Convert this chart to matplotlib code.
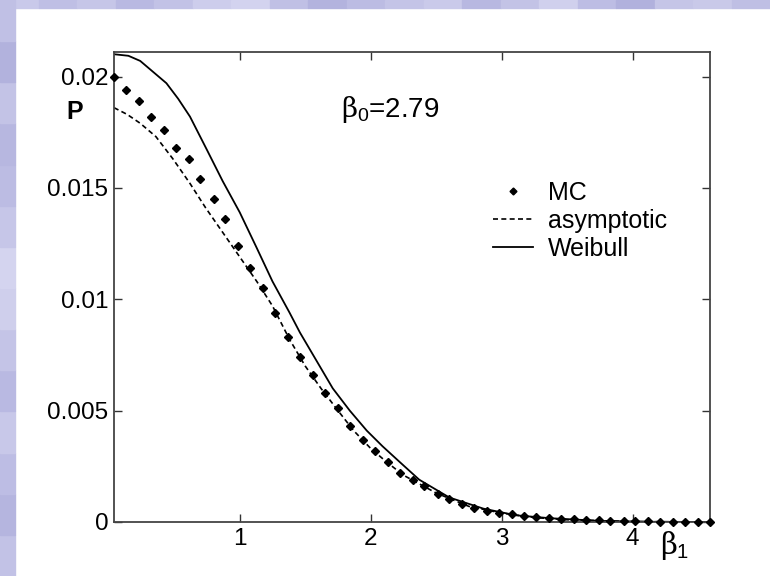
import matplotlib
matplotlib.use("Agg")
import matplotlib.pyplot as plt
from matplotlib.lines import Line2D
from matplotlib.patches import Rectangle

# Monte Carlo points
mc_x = [0.04, 0.13, 0.23, 0.32, 0.42, 0.51, 0.61, 0.70, 0.80, 0.89,
        0.99, 1.08, 1.18, 1.27, 1.37, 1.46, 1.56, 1.65, 1.75, 1.84,
        1.94, 2.03, 2.13, 2.22, 2.32, 2.41, 2.51, 2.60, 2.70, 2.79,
        2.89, 2.98, 3.08, 3.17, 3.26, 3.36, 3.45, 3.55, 3.64, 3.74,
        3.83, 3.93, 4.02, 4.12, 4.21, 4.31, 4.40, 4.50, 4.59]
mc_p = [0.0200, 0.0194, 0.0189, 0.0182, 0.0176, 0.0168, 0.0163, 0.0154, 0.0145, 0.0136,
        0.0124, 0.0114, 0.0105, 0.0094, 0.0083, 0.0074, 0.0066, 0.0058, 0.0051, 0.0043,
        0.0037, 0.0032, 0.0027, 0.0022, 0.0019, 0.0016, 0.00126, 0.00102, 0.00081, 0.00061,
        0.00051, 0.00042, 0.00034, 0.00027, 0.00021, 0.00017, 0.00015, 0.00012, 0.00010, 0.00008,
        0.00006, 0.00005, 0.00004, 0.00003, 0.00002, 0.00002, 0.00001, 0.00001, 0.00001]

# asymptotic curve
asy_x = [0.04, 0.14, 0.24, 0.36, 0.49, 0.62, 0.74, 0.87, 1.00, 1.13, 1.25, 1.38, 1.50,
         1.62, 1.75, 1.87, 2.00, 2.12, 2.25, 2.50, 2.75, 3.00, 3.25, 3.50, 4.00, 4.59]
asy_p = [0.0186, 0.0183, 0.0179, 0.0173, 0.0163, 0.0152, 0.0141, 0.0130, 0.0119, 0.0108, 0.0097, 0.0082, 0.0070,
         0.0060, 0.0050, 0.0041, 0.0033, 0.0027, 0.0021, 0.0013, 0.0007, 0.0004, 0.0002, 0.0001, 0.00002, 0.0]

# Weibull curve
wb_x = [0.04, 0.15, 0.24, 0.34, 0.44, 0.53, 0.62, 0.75, 0.87, 1.00, 1.13, 1.25, 1.38, 1.46, 1.59,
        1.71, 1.84, 1.97, 2.09, 2.22, 2.37, 2.60, 2.86, 3.11, 3.37, 3.75, 4.13, 4.59]
wb_p = [0.0210, 0.02093, 0.0207, 0.0202, 0.0197, 0.0190, 0.0182, 0.0167, 0.0153, 0.0139, 0.0123, 0.0108, 0.0094,
        0.0085, 0.0072, 0.0060, 0.0050, 0.0041, 0.0034, 0.0027, 0.0019, 0.0011, 0.0006, 0.0003, 0.00017,
        0.00005, 0.00001, 0.0]

x_ticks = [1, 2, 3, 4]
y_ticks = [0, 0.005, 0.01, 0.015, 0.02]
y_tick_labels = ["0", "0.005", "0.01", "0.015", "0.02"]

plt.rcParams["font.family"] = ["Liberation Sans", "DejaVu Sans"]
plt.rcParams["mathtext.fontset"] = "custom"
plt.rcParams["mathtext.it"] = "DejaVu Serif"
plt.rcParams["mathtext.rm"] = "Liberation Sans"
plt.rcParams["mathtext.sf"] = "Liberation Sans"

fig = plt.figure(figsize=(7.7, 5.76), dpi=100)
fig.patch.set_facecolor("white")

# slide background strips
W, H = 770, 576
top_shades = ["#c9c9ea", "#bfbfe5", "#c6c6e8", "#b9b9e2", "#c2c2e6", "#cdcdec", "#d3d3ef",
              "#c0c0e5", "#b3b3de", "#bcbce3", "#c4c4e7", "#cacaea", "#b8b8e1", "#c3c3e6",
              "#d0d0ed", "#bdbde4", "#b1b1dd", "#c5c5e7", "#c9c9e9", "#bfbfe4"]
bw = W / len(top_shades)
for i, c in enumerate(top_shades):
    fig.patches.append(Rectangle((i * bw / W, 1 - 8 / H), bw / W, 8 / H,
                                 transform=fig.transFigure, color=c, zorder=0))
left_shades = ["#c2c2e6", "#b5b5df", "#bdbde4", "#c8c8e9", "#b9b9e2", "#c4c4e7", "#cfcfec",
               "#d4d4ef", "#c6c6e8", "#bcbce3", "#b7b7e0", "#c3c3e6", "#b2b2dd", "#c0c0e5"]
bh = H / len(left_shades)
for i, c in enumerate(left_shades):
    fig.patches.append(Rectangle((0, i * bh / H), 15 / W, bh / H,
                                 transform=fig.transFigure, color=c, zorder=0))

ax = fig.add_axes([114 / W, 54 / H, 596 / W, 470 / H])
ax.set_xlim(0.04, 4.59)
ax.set_ylim(0, 0.0211)

ax.plot(wb_x, wb_p, color="black", lw=1.3, label="Weibull")
ax.plot(asy_x, asy_p, color="black", lw=1.2, ls=(0, (3, 2)), label="asymptotic")
ax.plot(mc_x, mc_p, ls="none", marker="D", markersize=4.3, color="black",
        clip_on=False, zorder=5, label="MC")

ax.set_xticks(x_ticks)
ax.set_xticklabels([str(t) for t in x_ticks])
ax.set_yticks(y_ticks)
ax.set_yticklabels(y_tick_labels)
ax.tick_params(direction="in", length=6, width=1, top=True, right=True,
               labelsize=17.5, pad=4, colors="#333333", labelcolor="black")
for s in ax.spines.values():
    s.set_color("#444444")
    s.set_linewidth(1.3)

ax.text(2.15, 0.0185, r"$\beta_0$=2.79", fontsize=20, ha="center", va="center")
ax.text(4.32, -0.0003, r"$\beta_1$", fontsize=21, ha="center", va="top")
fig.text(75 / W, 1 - 112 / H, "P", fontsize=18, fontweight="bold", ha="center", va="center")

handles = [Line2D([], [], ls="none", marker="D", markersize=3.5, color="black"),
           Line2D([], [], color="black", lw=1.2, ls=(0, (3, 2))),
           Line2D([], [], color="black", lw=1.3)]
ax.legend(handles, ["MC", "asymptotic", "Weibull"], frameon=False, fontsize=18,
          loc="upper left", bbox_to_anchor=(493 / W, 1 - 181 / H),
          bbox_transform=fig.transFigure, borderpad=0, borderaxespad=0,
          handlelength=1.6, handletextpad=0.6, labelspacing=0.15)

fig.savefig("out.png", dpi=100)
